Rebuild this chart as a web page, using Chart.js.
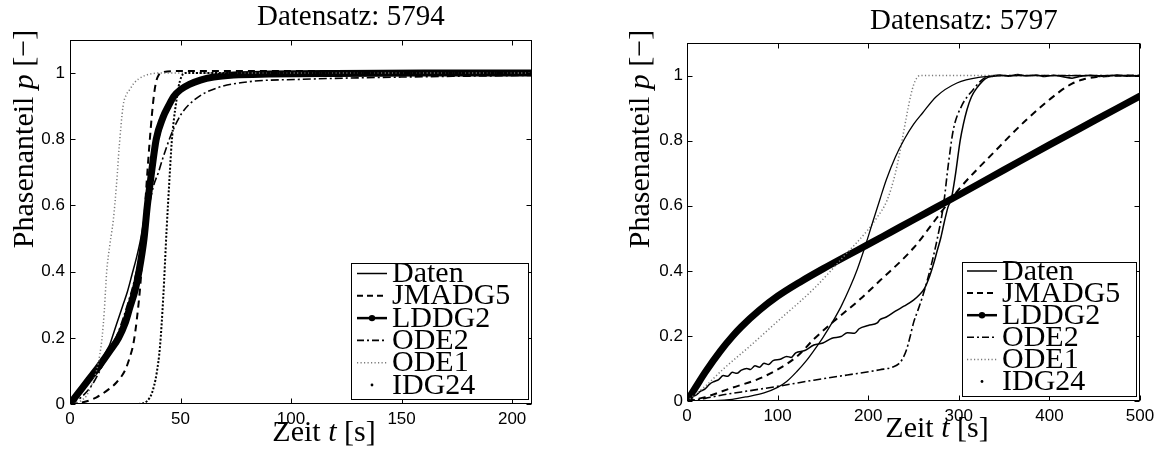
<!DOCTYPE html>
<html>
<head>
<meta charset="utf-8">
<script src="https://cdn.jsdelivr.net/npm/chart.js@4.4.1/dist/chart.umd.min.js"></script>
<style>
html,body{margin:0;padding:0;background:#fff;}
#wrap{position:relative;width:1166px;height:452px;overflow:hidden;}
.cell{position:absolute;top:0;width:583px;height:452px;}
</style>
</head>
<body>
<div id="wrap">
  <div class="cell" style="left:0"><canvas id="c1" width="583" height="452"></canvas></div>
  <div class="cell" style="left:583px"><canvas id="c2" width="583" height="452"></canvas></div>
</div>
<script>
// ---------------- common ----------------
const seriesNames = ['Daten', 'JMADG5', 'LDDG2', 'ODE2', 'ODE1', 'IDG24'];
const yTickValues = [0, 0.2, 0.4, 0.6, 0.8, 1];
const yTickLabels = ['0', '0.2', '0.4', '0.6', '0.8', '1'];

// ---------------- Datensatz 5794 ----------------
const title5794 = 'Datensatz: 5794';
const xTickValues5794 = [0, 50, 100, 150, 200];
const xTickLabels5794 = ['0', '50', '100', '150', '200'];

const t5794Daten = [0, 3, 6, 9, 12, 14, 16, 18, 20, 22, 24, 26, 28, 30, 32, 34, 36, 38, 40, 43, 46, 50, 55, 60, 70, 80, 100, 130, 160, 190, 209];
const p5794Daten = [0, 0.02, 0.045, 0.07, 0.1, 0.125, 0.155, 0.18, 0.22, 0.26, 0.3, 0.34, 0.39, 0.44, 0.5, 0.58, 0.66, 0.74, 0.8, 0.87, 0.92, 0.95, 0.97, 0.98, 0.99, 0.993, 0.996, 0.997, 0.998, 0.999, 1.0];

const t5794JMADG5 = [0, 4, 8, 12, 17, 21, 25, 27, 28.7, 30.2, 32, 33, 34, 35, 36, 37, 38, 39, 40, 42, 50, 80, 120, 209];
const p5794JMADG5 = [0, 0.003, 0.009, 0.02, 0.042, 0.065, 0.103, 0.14, 0.183, 0.254, 0.375, 0.48, 0.6, 0.7, 0.79, 0.87, 0.935, 0.975, 0.993, 1.003, 1.006, 1.006, 1.006, 1.006];

const t5794LDDG2 = [0, 4, 8, 13, 18, 22, 25, 27, 29.5, 31.2, 33.5, 35, 36.5, 39, 42, 44.5, 47, 50, 54, 59, 65, 74, 90, 120, 160, 209];
const p5794LDDG2 = [0, 0.035, 0.07, 0.113, 0.16, 0.2, 0.245, 0.29, 0.345, 0.4, 0.5, 0.6, 0.68, 0.8, 0.865, 0.9, 0.93, 0.95, 0.966, 0.979, 0.988, 0.994, 0.997, 0.999, 1.0, 1.0];

const t5794ODE2 = [0, 5, 10, 15, 18, 22, 26, 29, 32, 35, 37.7, 40, 42.2, 46, 50.5, 57, 66, 81, 104, 150, 209];
const p5794ODE2 = [0, 0.02, 0.058, 0.12, 0.16, 0.22, 0.3, 0.37, 0.46, 0.57, 0.657, 0.7, 0.747, 0.818, 0.878, 0.923, 0.954, 0.974, 0.981, 0.988, 0.993];

const t5794ODE1 = [0, 3, 5, 7.5, 9, 10.5, 12, 13.5, 14.5, 15.5, 16.6, 18, 19.6, 21, 22.3, 24, 25.5, 27, 29, 31, 34, 37, 40, 60, 209];
const p5794ODE1 = [0, 0.003, 0.01, 0.025, 0.045, 0.07, 0.1, 0.15, 0.2, 0.28, 0.4, 0.48, 0.556, 0.66, 0.78, 0.9, 0.935, 0.95, 0.97, 0.982, 0.993, 0.998, 1.0, 1.0, 1.0];

const t5794IDG24 = [0, 20, 30, 33, 35, 37, 39.2, 40.7, 42.2, 43.7, 45, 46, 47, 48, 49, 50.5, 52, 60, 100, 209];
const p5794IDG24 = [0, 0, 0, 0.002, 0.01, 0.032, 0.093, 0.173, 0.324, 0.526, 0.68, 0.79, 0.86, 0.91, 0.955, 0.99, 1.0, 1.0, 1.0, 1.0];

// ---------------- Datensatz 5797 ----------------
const title5797 = 'Datensatz: 5797';
const xTickValues5797 = [0, 100, 200, 300, 400, 500];
const xTickLabels5797 = ['0', '100', '200', '300', '400', '500'];

const t5797Daten = [0, 5, 10, 15, 20, 25, 30, 35, 40, 45, 50, 55, 60, 66, 70, 75, 80, 85, 90, 95, 103, 110, 115, 120, 130, 140, 150, 160, 170, 177, 185, 190, 200, 210, 213, 220, 230, 240, 250, 256, 262, 268, 272, 276, 280, 284, 288, 292, 296, 301.5, 305, 309, 314, 320, 326, 331, 338, 345, 355, 365, 375, 385, 395, 405, 415, 425, 435, 445, 455, 465, 475, 485, 500];
const p5797Daten = [0, 0.012, 0.018, 0.03, 0.037, 0.052, 0.06, 0.066, 0.078, 0.076, 0.088, 0.085, 0.095, 0.1, 0.097, 0.108, 0.104, 0.116, 0.112, 0.124, 0.128, 0.137, 0.134, 0.148, 0.155, 0.172, 0.178, 0.193, 0.198, 0.21, 0.208, 0.222, 0.232, 0.24, 0.25, 0.258, 0.276, 0.292, 0.31, 0.325, 0.345, 0.385, 0.42, 0.46, 0.5, 0.55, 0.595, 0.625, 0.69, 0.8, 0.85, 0.895, 0.935, 0.962, 0.982, 0.993, 0.998, 1.002, 0.998, 1.003, 0.999, 1.002, 0.997, 1.001, 0.996, 0.992, 0.998, 1.001, 0.997, 0.999, 1.002, 0.998, 1.0];

const t5797JMADG5 = [0, 20, 48, 85, 121, 140, 162, 190, 213, 250, 275, 301.5, 338, 375, 412, 425, 437, 450, 470, 500];
const p5797JMADG5 = [0, 0.012, 0.039, 0.075, 0.136, 0.19, 0.245, 0.31, 0.37, 0.47, 0.56, 0.655, 0.762, 0.865, 0.952, 0.975, 0.988, 0.995, 0.999, 1.0];

const t5797LDDG2 = [0, 10, 20, 37, 50, 60, 80, 100, 125, 150, 175, 200, 225, 250, 275, 300, 350, 400, 450, 500];
const p5797LDDG2 = [0, 0.044, 0.088, 0.154, 0.198, 0.228, 0.279, 0.322, 0.366, 0.406, 0.444, 0.481, 0.519, 0.557, 0.595, 0.633, 0.71, 0.787, 0.862, 0.937];

const t5797ODE2 = [0, 20, 40, 70, 100, 140, 177, 213, 228, 234, 238, 242, 246, 250, 255, 261, 268, 276, 283, 288.6, 294, 303, 316, 327, 340, 400, 500];
const p5797ODE2 = [0, 0.008, 0.019, 0.032, 0.045, 0.064, 0.08, 0.096, 0.105, 0.115, 0.13, 0.155, 0.195, 0.24, 0.28, 0.33, 0.4, 0.495, 0.6, 0.73, 0.834, 0.906, 0.957, 0.99, 1.0, 1.0, 1.0];

const t5797ODE1 = [0, 20, 40, 70, 100, 140, 173, 200, 210, 220.6, 230, 237, 243, 247, 250, 253, 257, 270, 500];
const p5797ODE1 = [0, 0.045, 0.098, 0.17, 0.245, 0.345, 0.444, 0.527, 0.565, 0.615, 0.7, 0.795, 0.885, 0.94, 0.97, 0.99, 1.0, 1.0, 1.0];

const t5797IDG24 = [0, 30, 50, 66, 85, 100, 110, 121, 132, 140, 150, 160, 170, 180, 188, 196, 205, 213, 220, 230, 240, 250, 260, 275, 298, 324, 350, 500];
const p5797IDG24 = [0, 0.001, 0.005, 0.013, 0.025, 0.042, 0.06, 0.09, 0.125, 0.155, 0.195, 0.24, 0.29, 0.35, 0.405, 0.47, 0.55, 0.62, 0.68, 0.75, 0.805, 0.85, 0.885, 0.935, 0.977, 0.995, 1.0, 1.0];

// ---------------- helpers ----------------
const pts = (t, p) => t.map((x, i) => ({ x: x, y: p[i] }));
const SERIF = '"Liberation Serif", "Times New Roman", serif';
const SANS = '"Liberation Sans", Arial, sans-serif';

function drawParts(ctx, parts, size, x, y, align) {
  let total = 0;
  const widths = parts.map(([txt, style]) => {
    ctx.font = (style === 'i' ? 'italic ' : '') + size + 'px ' + SERIF;
    const w = ctx.measureText(txt).width;
    total += w;
    return w;
  });
  let cx = align === 'center' ? x - total / 2 : x;
  parts.forEach(([txt, style], i) => {
    ctx.font = (style === 'i' ? 'italic ' : '') + size + 'px ' + SERIF;
    ctx.fillText(txt, cx, y);
    cx += widths[i];
  });
}

const decor = {
  id: 'decor',
  afterDatasetsDraw(chart, args, o) {
    const ctx = chart.ctx, a = chart.chartArea;
    const xs = chart.scales.x, ys = chart.scales.y;
    ctx.save();
    ctx.setLineDash([]);
    ctx.strokeStyle = '#000';
    ctx.lineWidth = 1;
    const L = Math.round(a.left) + 0.5, R = Math.round(a.right) - 0.5;
    const T = Math.round(a.top) + 0.5, B = Math.round(a.bottom) - 0.5;
    ctx.strokeRect(L, T, R - L, B - T);
    const tl = 5;
    ctx.beginPath();
    xs.ticks.forEach(t => {
      const x = Math.round(xs.getPixelForValue(t.value)) + 0.5;
      ctx.moveTo(x, B); ctx.lineTo(x, B - tl);
      ctx.moveTo(x, T); ctx.lineTo(x, T + tl);
    });
    ys.ticks.forEach(t => {
      const y = Math.round(ys.getPixelForValue(t.value)) + 0.5;
      ctx.moveTo(L, y); ctx.lineTo(L + tl, y);
      ctx.moveTo(R, y); ctx.lineTo(R - tl, y);
    });
    ctx.stroke();

    // legend
    const lg = o.legend;
    ctx.fillStyle = '#fff';
    ctx.fillRect(lg.x, lg.y, lg.w, lg.h);
    ctx.strokeRect(lg.x + 0.5, lg.y + 0.5, lg.w, lg.h);
    chart.data.datasets.forEach((ds, i) => {
      const by = lg.base + i * lg.step;
      const ly = by - 8.5;
      const st = o.legendStyles[i];
      ctx.save();
      ctx.strokeStyle = ds.borderColor;
      ctx.fillStyle = ds.borderColor;
      const mid = (lg.lx1 + lg.lx2) / 2;
      if (st.mode === 'dot') {
        ctx.beginPath(); ctx.arc(mid, ly, 1.4, 0, Math.PI * 2); ctx.fill();
      } else {
        ctx.lineWidth = st.width;
        ctx.setLineDash(st.dash || []);
        ctx.beginPath(); ctx.moveTo(lg.lx1, ly); ctx.lineTo(lg.lx2, ly); ctx.stroke();
        if (st.mode === 'linedot') {
          ctx.beginPath(); ctx.arc(mid, ly, 3.2, 0, Math.PI * 2); ctx.fill();
        }
      }
      ctx.restore();
      ctx.fillStyle = '#000';
      ctx.textAlign = 'left';
      ctx.textBaseline = 'alphabetic';
      ctx.font = lg.font + 'px ' + SERIF;
      ctx.fillText(ds.label, lg.tx, by);
    });
    ctx.restore();
  },
  afterDraw(chart, args, o) {
    const ctx = chart.ctx;
    ctx.save();
    ctx.fillStyle = '#000';
    ctx.textBaseline = 'alphabetic';
    ctx.textAlign = 'left';
    drawParts(ctx, [[o.title.text, 'n']], o.title.size, o.title.x, o.title.y, 'left');
    drawParts(ctx, [['Zeit ', 'n'], ['t', 'i'], [' [s]', 'n']], o.xlabel.size, o.xlabel.cx, o.xlabel.y, 'center');
    ctx.save();
    ctx.translate(o.ylabel.x, o.ylabel.cy);
    ctx.rotate(-Math.PI / 2);
    drawParts(ctx, [['Phasenanteil ', 'n'], ['p', 'i'], [' [\u2212]', 'n']], o.ylabel.size, 0, 0, 'center');
    ctx.restore();
    ctx.restore();
  }
};

function makeChart(id, cfg) {
  const datasets = [
    { label: seriesNames[0], data: pts(cfg.t[0], cfg.p[0]), borderColor: '#000', borderWidth: 1.5, order: 6 },
    { label: seriesNames[1], data: pts(cfg.t[1], cfg.p[1]), borderColor: '#000', borderWidth: 2, borderDash: [7, 5], order: 5 },
    { label: seriesNames[2], data: pts(cfg.t[2], cfg.p[2]), borderColor: '#000', borderWidth: cfg.thick, borderCapStyle: 'round', borderJoinStyle: 'round', order: 4 },
    { label: seriesNames[3], data: pts(cfg.t[3], cfg.p[3]), borderColor: '#000', borderWidth: 1.6, borderDash: [8, 3, 2, 3], order: 3 },
    { label: seriesNames[4], data: pts(cfg.t[4], cfg.p[4]), borderColor: '#7a7a7a', borderWidth: 1.5, borderDash: [1.2, 2.3], order: 2 },
    { label: seriesNames[5], data: pts(cfg.t[5], cfg.p[5]), borderColor: '#000', borderWidth: cfg.idgWidth, borderDash: cfg.idgDash, order: 1 }
  ];
  return new Chart(document.getElementById(id), {
    type: 'line',
    data: { datasets: datasets },
    options: {
      responsive: false,
      animation: false,
      devicePixelRatio: 1,
      layout: { padding: { left: 0, top: cfg.top, right: cfg.right, bottom: 0 } },
      elements: {
        point: { radius: 0, hoverRadius: 0 },
        line: { tension: 0.3, cubicInterpolationMode: 'monotone', fill: false }
      },
      plugins: {
        legend: { display: false },
        title: { display: false },
        tooltip: { enabled: false },
        decor: {
          title: { text: cfg.title, size: 29, x: cfg.titleX, y: cfg.titleY },
          xlabel: { size: 30, cx: cfg.xlabX, y: cfg.xlabY },
          ylabel: { size: 30, x: cfg.ylabX, cy: 139 },
          legend: cfg.legend,
          legendStyles: [
            { mode: 'line', width: 1.5 },
            { mode: 'line', width: 2, dash: [6, 4] },
            { mode: 'linedot', width: 2.5 },
            { mode: 'line', width: 1.6, dash: [7, 3, 2, 3] },
            { mode: 'line', width: 1.5, dash: [1.2, 2.3] },
            { mode: 'dot' }
          ]
        }
      },
      scales: {
        x: {
          type: 'linear', min: 0, max: cfg.xmax,
          grid: { display: false, drawTicks: false },
          border: { display: false },
          afterBuildTicks: s => { s.ticks = cfg.xt.map(v => ({ value: v })); },
          afterFit: s => { s.height = cfg.xh; },
          ticks: {
            autoSkip: false, maxRotation: 0, padding: 5, color: '#000',
            font: { family: SANS, size: 17 },
            callback: (v, i) => cfg.xl[i]
          }
        },
        y: {
          type: 'linear', min: 0, max: 1.1,
          grid: { display: false, drawTicks: false },
          border: { display: false },
          afterBuildTicks: s => { s.ticks = yTickValues.map(v => ({ value: v })); },
          afterFit: s => { s.width = cfg.yw; },
          ticks: {
            autoSkip: false, padding: cfg.ypad, color: '#000',
            font: { family: SANS, size: 17 },
            callback: (v, i) => yTickLabels[i]
          }
        }
      }
    },
    plugins: [decor]
  });
}

makeChart('c1', {
  t: [t5794Daten, t5794JMADG5, t5794LDDG2, t5794ODE2, t5794ODE1, t5794IDG24],
  p: [p5794Daten, p5794JMADG5, p5794LDDG2, p5794ODE2, p5794ODE1, p5794IDG24],
  xt: xTickValues5794, xl: xTickLabels5794, xmax: 209,
  thick: 7, idgWidth: 2, idgDash: [2, 1.8],
  top: 40, right: 51, xh: 48, yw: 70, ypad: 5,
  title: title5794, titleX: 257, titleY: 25,
  xlabX: 324, xlabY: 441, ylabX: 33,
  legend: { x: 351, y: 263, w: 177, h: 136, lx1: 357, lx2: 387, tx: 392, base: 282, step: 22.3, font: 30 }
});

makeChart('c2', {
  t: [t5797Daten, t5797JMADG5, t5797LDDG2, t5797ODE2, t5797ODE1, t5797IDG24],
  p: [p5797Daten, p5797JMADG5, p5797LDDG2, p5797ODE2, p5797ODE1, p5797IDG24],
  xt: xTickValues5797, xl: xTickLabels5797, xmax: 500,
  thick: 7, idgWidth: 1.3, idgDash: [],
  top: 43, right: 26, xh: 51, yw: 104, ypad: 4,
  title: title5797, titleX: 287, titleY: 29,
  xlabX: 354, xlabY: 437, ylabX: 66,
  legend: { x: 379, y: 262, w: 174, h: 134, lx1: 384, lx2: 414, tx: 419, base: 279.5, step: 22.1, font: 30 }
});
</script>
</body>
</html>
